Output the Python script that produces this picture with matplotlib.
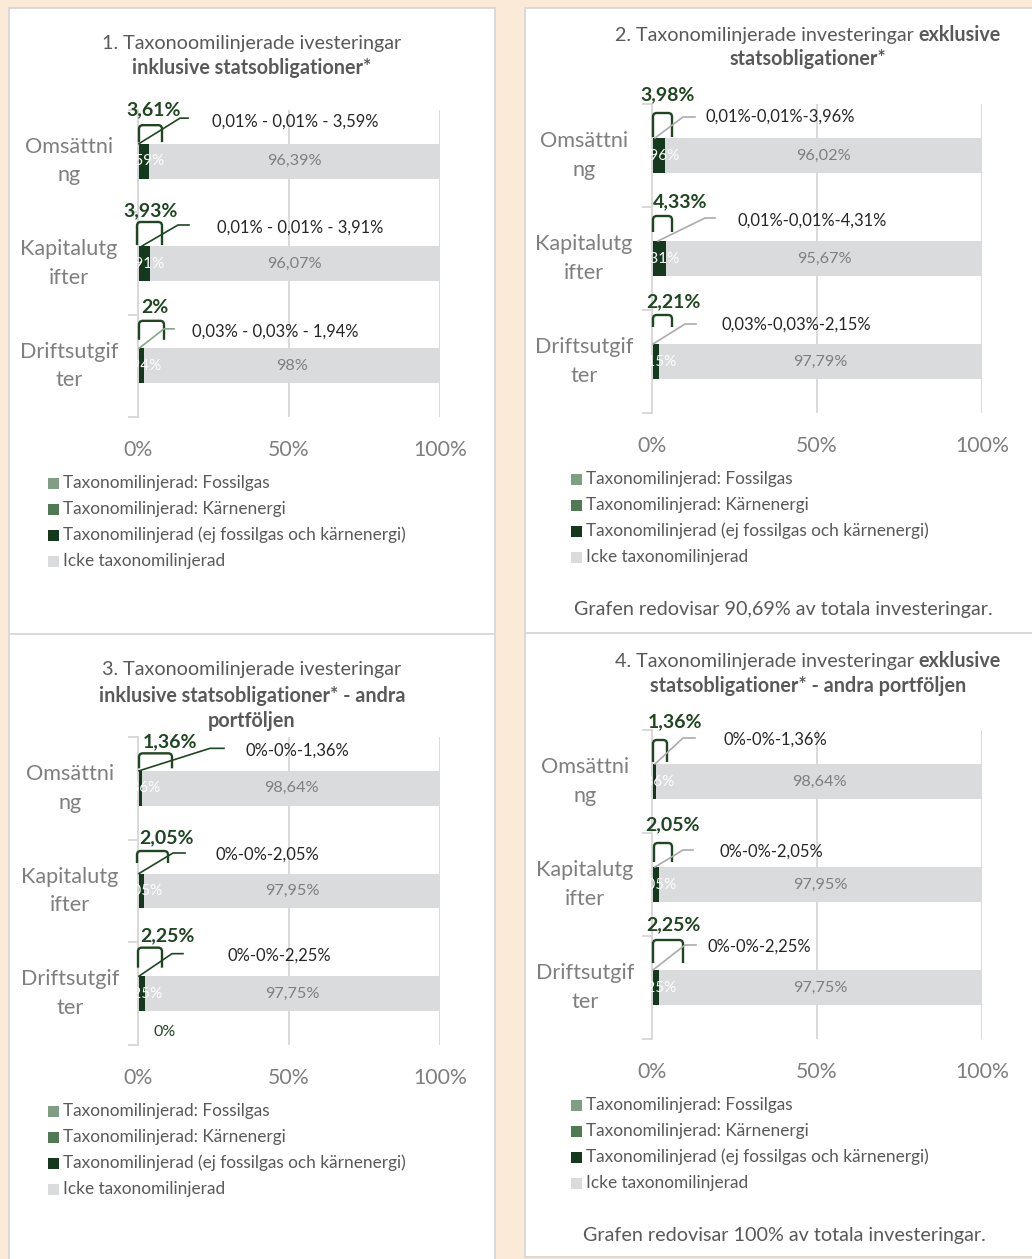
import matplotlib
matplotlib.use('Agg')
import matplotlib.pyplot as plt
from matplotlib.patches import Rectangle
from matplotlib.lines import Line2D
from matplotlib.transforms import blended_transform_factory

plt.rcParams['font.family'] = ['Lato', 'DejaVu Sans']

# ---------------- data ----------------
categories = ['Omsättning', 'Kapitalutgifter', 'Driftsutgifter']
category_labels = ['Omsättni\nng', 'Kapitalutg\nifter', 'Driftsutgif\nter']
series_names = ['Taxonomilinjerad: Fossilgas',
                'Taxonomilinjerad: Kärnenergi',
                'Taxonomilinjerad (ej fossilgas och kärnenergi)',
                'Icke taxonomilinjerad']
x_ticks = [0, 50, 100]
x_tick_labels = ['0%', '50%', '100%']

p1_fossil = [0.01, 0.01, 0.03]
p1_nuclear = [0.01, 0.01, 0.03]
p1_aligned = [3.59, 3.91, 1.94]
p1_other = [96.39, 96.07, 98.0]

p2_fossil = [0.01, 0.01, 0.03]
p2_nuclear = [0.01, 0.01, 0.03]
p2_aligned = [3.96, 4.31, 2.15]
p2_other = [96.02, 95.67, 97.79]

p3_fossil = [0.0, 0.0, 0.0]
p3_nuclear = [0.0, 0.0, 0.0]
p3_aligned = [1.36, 2.05, 2.25]
p3_other = [98.64, 97.95, 97.75]

p4_fossil = [0.0, 0.0, 0.0]
p4_nuclear = [0.0, 0.0, 0.0]
p4_aligned = [1.36, 2.05, 2.25]
p4_other = [98.64, 97.95, 97.75]

footnote2 = 'Grafen redovisar 90,69% av totala investeringar.'
footnote4 = 'Grafen redovisar 100% av totala investeringar.'

# ---------------- style ----------------
W, H = 1032, 1259
BG = '#FBEAD7'
BORDER = '#D9D9D9'
SERIES_COLORS = ['#809E83', '#4F7A53', '#15391C', '#DADBDC']
DARK = '#1E4620'
LIGHTG = '#86A78A'
GRAYL = '#ABABAB'
TXT = '#595959'
TXT2 = '#7F7F7F'

FS_TITLE = 14.2
FS_CAT = 15.6
FS_TICK = 15.3
FS_LEG = 12.4
FS_DET = 11.9
FS_TOT = 14.0
FS_OTHER = 11.7
FS_FOOT = 14.2

fig = plt.figure(figsize=(W / 100, H / 100), dpi=100)
fig.patch.set_facecolor(BG)
renderer = fig.canvas.get_renderer()


def fx(x):
    return x / W


def fy(y):
    return 1 - y / H


def fmt(v):
    s = f"{v:.2f}".rstrip('0').rstrip('.')
    return s.replace('.', ',') + '%'


def mixed_line(xc, y, segs, size, color):
    texts, widths = [], []
    gap = 0.25 * size * 100 / 72
    for s, w in segs:
        t = fig.text(0, fy(y), s, fontsize=size, fontweight=w, color=color,
                     ha='left', va='center')
        texts.append(t)
        widths.append(t.get_window_extent(renderer).width)
    total = sum(widths) + gap * (len(segs) - 1)
    x = xc - total / 2
    for t, wd in zip(texts, widths):
        t.set_x(fx(x))
        x += wd + gap


panels = [
    dict(box=(9, 8, 495, 634), ax=(138, 440, 110, 417),
         data=(p1_fossil, p1_nuclear, p1_aligned, p1_other), sep=' - ',
         title=[[('1. Taxonoomilinjerade ivesteringar', 'normal')],
                [('inklusive statsobligationer*', 'bold')]],
         title_x=252, title_y=[43, 68], cat_x=69, leg_x=48, foot=None, foot_x=None, foot_y=None,
         lead_colors=[DARK, DARK, LIGHTG],
         ann=[dict(tot=(16, -51), br=(1, 24, -36, -19), lead=[(1, -17.5), (42, -43), (50, -43)], lab=(74, -40)),
              dict(tot=(13, -52.5), br=(-1, 24, -41.5, -18.5), lead=[(4, -17.5), (40, -38.5), (51, -38.5)], lab=(79, -35.5)),
              dict(tot=(17, -58), br=(1, 26, -45, -26), lead=[(1, -17.5), (26, -37), (36, -37)], lab=(54, -34))],
         extra=None),
    dict(box=(525, 8, 1045, 633), ax=(652, 982, 104, 413),
         data=(p2_fossil, p2_nuclear, p2_aligned, p2_other), sep='-',
         title=[[('2. Taxonomilinjerade investeringar', 'normal'), ('exklusive', 'bold')],
                [('statsobligationer*', 'bold')]],
         title_x=808, title_y=[35, 59], cat_x=584, leg_x=571, foot=footnote2, foot_x=783, foot_y=610,
         lead_colors=[GRAYL, GRAYL, GRAYL],
         ann=[dict(tot=(16, -60.5), br=(1, 20, -42.5, -18.5), lead=[(3, -17.5), (31, -38.5), (43, -38.5)], lab=(53, -38.5)),
              dict(tot=(28, -56.5), br=(1, 20, -42.5, -26.5), lead=[(6, -17.5), (53, -40.5), (63, -40.5)], lab=(85, -37.5)),
              dict(tot=(21, -59.5), br=(1, 20, -46.5, -34.5), lead=[(1, -17.5), (33, -37.5), (44, -37.5)], lab=(70, -36.5))],
         extra=None),
    dict(box=(9, 634, 495, 1270), ax=(138, 440, 737, 1045),
         data=(p3_fossil, p3_nuclear, p3_aligned, p3_other), sep='-',
         title=[[('3. Taxonoomilinjerade ivesteringar', 'normal')],
                [('inklusive statsobligationer* - andra', 'bold')],
                [('portföljen', 'bold')]],
         title_x=252, title_y=[670, 696, 721], cat_x=70, leg_x=48, foot=None, foot_x=None, foot_y=None,
         lead_colors=[DARK, DARK, DARK],
         ann=[dict(tot=(32, -47), br=(1, 34, -35, -20), lead=[(1, -17.5), (72, -40), (86, -40)], lab=(108, -38)),
              dict(tot=(29, -53), br=(-1, 30, -40, -28), lead=[(1, -17.5), (35, -38), (47, -38)], lab=(77, -36)),
              dict(tot=(29, -58), br=(0, 24, -46, -26), lead=[(1, -17.5), (34, -40), (45, -40)], lab=(90, -38))],
         extra=(2, 27, 38)),
    dict(box=(525, 633, 1045, 1257), ax=(652, 982, 730, 1039),
         data=(p4_fossil, p4_nuclear, p4_aligned, p4_other), sep='-',
         title=[[('4. Taxonomilinjerade investeringar', 'normal'), ('exklusive', 'bold')],
                [('statsobligationer* - andra portföljen', 'bold')]],
         title_x=808, title_y=[661, 686], cat_x=585, leg_x=571, foot=footnote4, foot_x=784, foot_y=1235,
         lead_colors=[GRAYL, GRAYL, GRAYL],
         ann=[dict(tot=(23, -59.5), br=(1, 15, -41.5, -19.5), lead=[(3, -17.5), (31, -43.5), (43, -43.5)], lab=(71, -41.5)),
              dict(tot=(20, -59.5), br=(2, 20, -41.5, -22.5), lead=[(3, -17.5), (31, -34.5), (41, -34.5)], lab=(68, -32.5)),
              dict(tot=(21, -62.5), br=(1, 31, -47.5, -24.5), lead=[(1, -17.5), (33, -42.5), (44, -42.5)], lab=(56, -40.5))],
         extra=None),
]

for P in panels:
    bx0, by0, bx1, by1 = P['box']
    fig.add_artist(Rectangle((fx(bx0), fy(by1)), (bx1 - bx0) / W, (by1 - by0) / H,
                             transform=fig.transFigure, facecolor='white',
                             edgecolor=BORDER, lw=1.4, zorder=0))

    x0, x1, top, bot = P['ax']
    ax = fig.add_axes([fx(x0), fy(bot), (x1 - x0) / W, (bot - top) / H])
    ax.set_facecolor('none')
    sx = (x1 - x0) / 100.0
    sy = (bot - top) / 3.0

    def pt(i, dx, dy):
        return dx / sx, i + dy / sy

    fossil, nuclear, aligned, other = P['data']
    series = [fossil, nuclear, aligned, other]
    ypos = list(range(len(categories)))
    lefts = [0.0] * len(categories)
    for k, vals in enumerate(series):
        ax.barh(ypos, vals, left=lefts, height=0.34, color=SERIES_COLORS[k], zorder=2)
        for i, v in enumerate(vals):
            cx = lefts[i] + v / 2
            if k == 3:
                ax.text(cx, i, fmt(v), ha='center', va='center', fontsize=FS_OTHER,
                        color=TXT2, zorder=4)
            elif k == 2:
                # the tiny segment labels overlap in the original; show the aligned one
                ax.text(cx, i, fmt(v), ha='center', va='center', fontsize=11,
                        color='white', zorder=4, clip_on=False)
        lefts = [l + v for l, v in zip(lefts, vals)]

    ax.set_xlim(0, 100)
    ax.set_ylim(2.5, -0.5)
    ax.set_xticks(x_ticks)
    ax.set_xticklabels(x_tick_labels)
    ax.tick_params(axis='x', length=0, pad=16.5, labelsize=FS_TICK, labelcolor=TXT2)
    ax.set_yticks([])
    ax.set_yticks([-0.5, 0.5, 1.5, 2.5], minor=True)
    ax.tick_params(axis='y', which='minor', length=7, width=1.4, color=BORDER)
    ax.xaxis.grid(True, color=BORDER, lw=1.4, zorder=0)
    ax.set_axisbelow(True)
    for s in ['top', 'right', 'bottom']:
        ax.spines[s].set_visible(False)
    ax.spines['left'].set_color(BORDER)
    ax.spines['left'].set_linewidth(1.4)

    trans = blended_transform_factory(fig.transFigure, ax.transData)
    for i, lab in enumerate(category_labels):
        ax.text(fx(P['cat_x']), i, lab, transform=trans, ha='center', va='center',
                multialignment='center', fontsize=FS_CAT, color=TXT2, linespacing=1.53)

    # annotations
    for i, a in enumerate(P['ann']):
        total = fossil[i] + nuclear[i] + aligned[i]
        tx, ty = pt(i, *a['tot'])
        ax.text(tx, ty, fmt(total), ha='center', va='center', fontsize=FS_TOT,
                fontweight='bold', color=DARK, zorder=6, clip_on=False)
        xa, xb, bt, bb = a['br']
        r = 3
        bpts = [(xa, bb), (xa, bt + r), (xa + 0.9, bt + 0.9), (xa + r, bt),
                (xb - r, bt), (xb - 0.9, bt + 0.9), (xb, bt + r), (xb, bb)]
        bxs, bys = zip(*[pt(i, px, py) for px, py in bpts])
        ax.add_line(Line2D(bxs, bys, color=DARK, lw=1.7, solid_joinstyle='round',
                           solid_capstyle='butt', zorder=6, clip_on=False))
        lxs, lys = zip(*[pt(i, px, py) for px, py in a['lead']])
        ax.add_line(Line2D(lxs, lys, color=P['lead_colors'][i], lw=1.2,
                           zorder=6, clip_on=False))
        labx, laby = pt(i, *a['lab'])
        txt = P['sep'].join([fmt(fossil[i]), fmt(nuclear[i]), fmt(aligned[i])])
        ax.text(labx, laby, txt, ha='left', va='center', fontsize=FS_DET,
                color='#262626', zorder=6, clip_on=False)

    if P['extra'] is not None:
        i, dx, dy = P['extra']
        ex, ey = pt(i, dx, dy)
        ax.text(ex, ey, fmt(fossil[i]), ha='center', va='center', fontsize=11.5,
                color=DARK, clip_on=False)

    # titles
    for segs, yy in zip(P['title'], P['title_y']):
        mixed_line(P['title_x'], yy, segs, FS_TITLE, TXT)

    # legend
    for k, name in enumerate(series_names):
        ry = bot + 66 + 26 * k
        fig.add_artist(Rectangle((fx(P['leg_x']), fy(ry + 5.5)), 11 / W, 11 / H,
                                 transform=fig.transFigure, facecolor=SERIES_COLORS[k],
                                 edgecolor='none', zorder=3))
        fig.text(fx(P['leg_x'] + 15), fy(ry), name, ha='left', va='center',
                 fontsize=FS_LEG, color=TXT)

    if P['foot']:
        fig.text(fx(P['foot_x']), fy(P['foot_y']), P['foot'], ha='center', va='center',
                 fontsize=FS_FOOT, color=TXT)

fig.savefig('out.png', dpi=100, facecolor=BG)
